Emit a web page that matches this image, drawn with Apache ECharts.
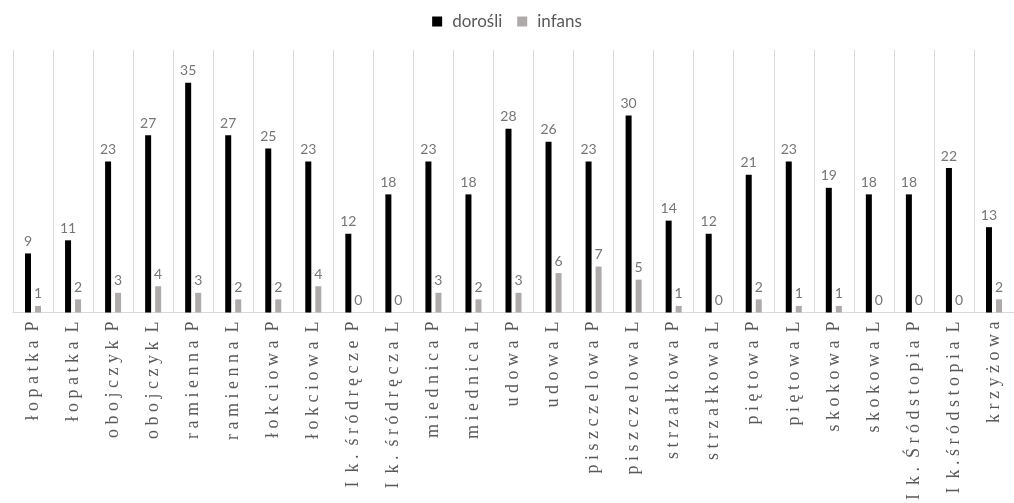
<!DOCTYPE html>
<html>
<head>
<meta charset="utf-8">
<script src="https://cdn.jsdelivr.net/npm/echarts@6/dist/echarts.min.js"></script>
<style>
html,body{margin:0;padding:0;background:#fff;}
#chart{width:1014px;height:503px;}
</style>
</head>
<body>
<div id="chart"></div>
<script>
var categories = ['łopatka P','łopatka L','obojczyk P','obojczyk L','ramienna P','ramienna L','łokciowa P','łokciowa L','I k. śródręcze P','I k. śródręcza L','miednica P','miednica L','udowa P','udowa L','piszczelowa P','piszczelowa L','strzałkowa P','strzałkowa L','piętowa P','piętowa L','skokowa P','skokowa L','I k. Śródstopia P','I k.śródstopia L','krzyżowa'];
var dorosli = [9,11,23,27,35,27,25,23,12,18,23,18,28,26,23,30,14,12,21,23,19,18,18,22,13];
var infans = [1,2,3,4,3,2,2,4,0,0,3,2,3,6,7,5,1,0,2,1,1,0,0,0,2];
var seriesNames = ['dorośli','infans'];

var chart = echarts.init(document.getElementById('chart'), null, {renderer:'canvas'});
var labelStyle = {show:true, position:'top', distance:5, color:'#767676', fontSize:14, fontFamily:'Lato'};
function spaced(v){
  return v.split('').map(function(ch){ return ch === ' ' ? '' : ch; }).join(' ');
}
chart.setOption({
  animation:false,
  backgroundColor:'#ffffff',
  legend:{
    top:8, left:'center', itemWidth:10, itemHeight:10, itemGap:15,
    icon:'rect',
    textStyle:{color:'#595959', fontSize:17, fontFamily:'Lato', padding:[0,0,0,5]},
    data:seriesNames
  },
  grid:{left:13, right:-8, top:50, bottom:189, containLabel:false},
  xAxis:{
    type:'category', data:categories, boundaryGap:true,
    axisLine:{show:true, lineStyle:{color:'#d9d9d9', width:1}},
    axisTick:{show:false},
    splitLine:{show:true, lineStyle:{color:'#d9d9d9', width:1}},
    axisLabel:{
      interval:0, rotate:90, margin:9, color:'#595959', fontSize:18,
      fontFamily:"'Liberation Serif', serif",
      formatter:spaced
    }
  },
  yAxis:{
    type:'value', min:0, max:40, show:false, splitLine:{show:false}
  },
  series:[
    {name:seriesNames[0], type:'bar', data:dorosli, barWidth:6, barGap:'67%',
     itemStyle:{color:'#000000'}, label:labelStyle},
    {name:seriesNames[1], type:'bar', data:infans, barWidth:6, barGap:'67%',
     itemStyle:{color:'#aeaaaa'}, label:labelStyle}
  ]
});
</script>
</body>
</html>
